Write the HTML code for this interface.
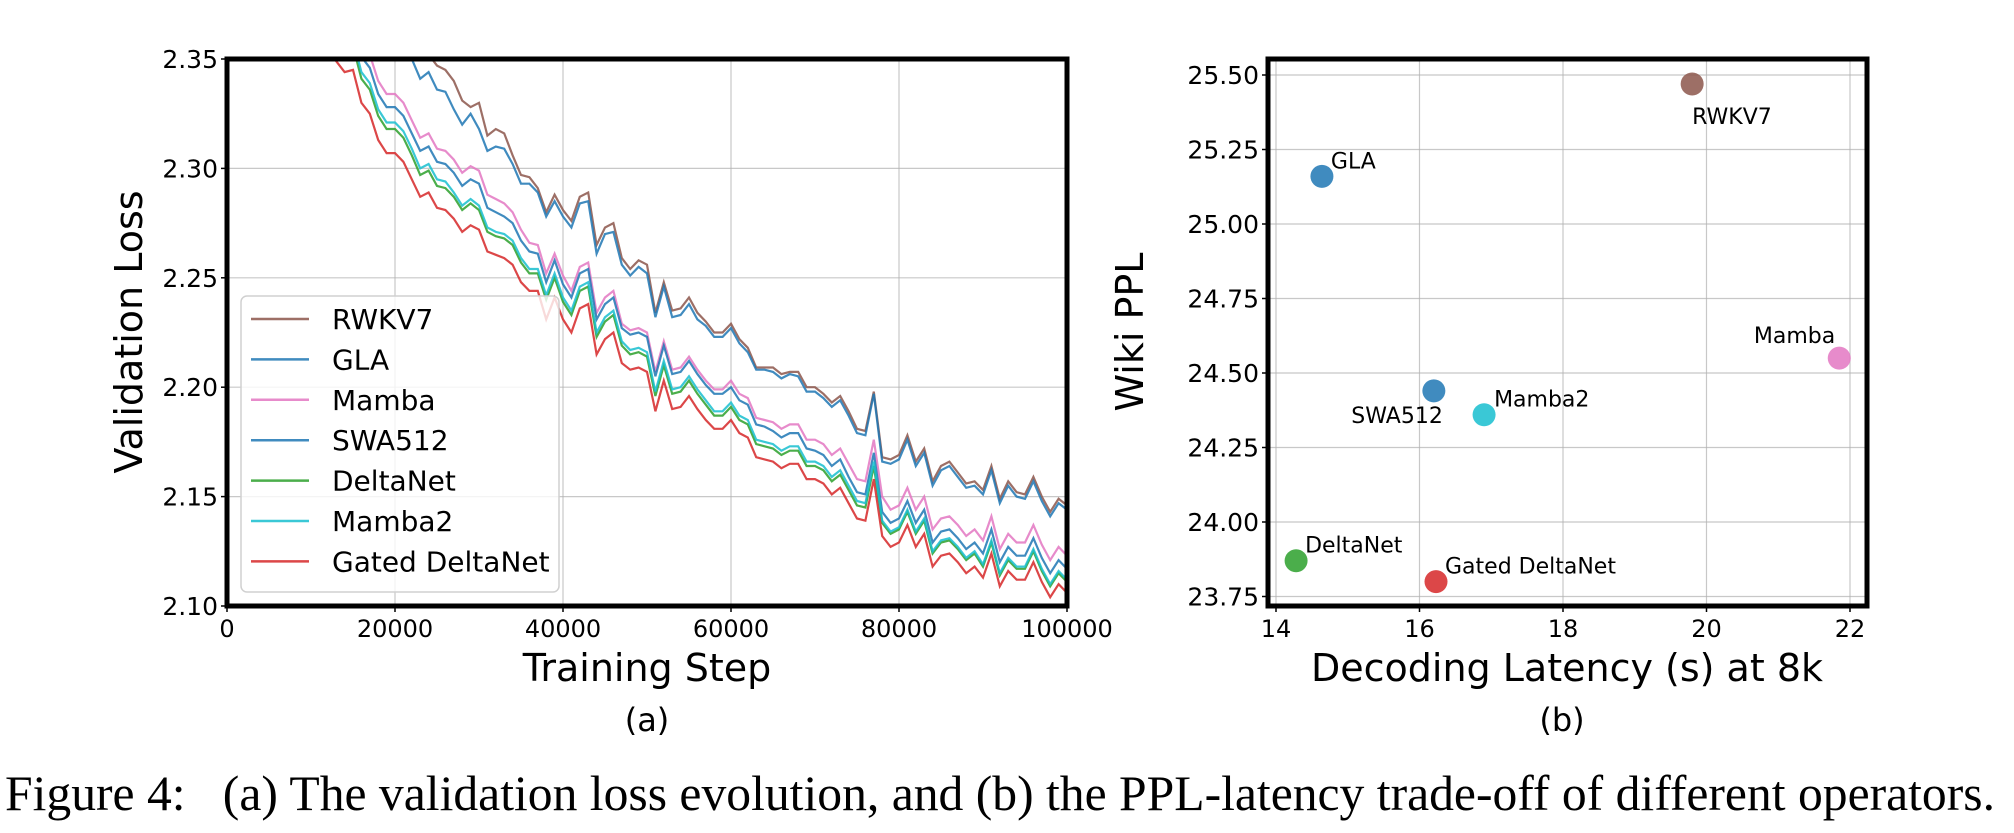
<!DOCTYPE html>
<html><head><meta charset="utf-8"><style>
html,body{margin:0;padding:0;background:#fff;}
svg{display:block;font-family:"DejaVu Sans","Liberation Sans",sans-serif;}
</style></head><body>
<svg id="fig" width="2014" height="833" viewBox="0 0 2014 833" xmlns="http://www.w3.org/2000/svg">
<g id="left"></g>
<g id="right"></g>
<text x="5" y="810" font-family="'Liberation Serif',serif" font-size="50" textLength="1990" lengthAdjust="spacingAndGlyphs">Figure 4:&#160;&#160;&#160;(a) The validation loss evolution, and (b) the PPL-latency trade-off of different operators.</text>
</svg>
<script>
const NS='http://www.w3.org/2000/svg';
// ---------- Chart (a) data ----------
const stepStart=12000, stepInc=1000;
const seriesNames=['RWKV7','GLA','Mamba','SWA512','DeltaNet','Mamba2','Gated DeltaNet'];
const seriesColors=['#8c564b','#1f77b4','#e377c2','#1f77b4','#2ca02c','#17becf','#d62728'];
const rwkv7=[2.40,2.395,2.39,2.385,2.38,2.375,2.37,2.366,2.362,2.358,2.355,2.352,2.352,2.347,2.345,2.340,2.331,2.328,2.330,2.315,2.318,2.316,2.306,2.297,2.296,2.291,2.280,2.288,2.281,2.276,2.287,2.289,2.265,2.273,2.275,2.259,2.254,2.258,2.256,2.234,2.248,2.235,2.236,2.241,2.234,2.230,2.225,2.225,2.229,2.222,2.218,2.209,2.209,2.209,2.206,2.207,2.207,2.200,2.200,2.197,2.193,2.196,2.189,2.181,2.180,2.198,2.168,2.167,2.169,2.178,2.166,2.172,2.157,2.164,2.166,2.161,2.156,2.157,2.153,2.164,2.149,2.157,2.152,2.151,2.159,2.150,2.143,2.149,2.146];
const gla=[2.39,2.385,2.38,2.375,2.37,2.366,2.362,2.358,2.355,2.352,2.35,2.341,2.344,2.336,2.335,2.327,2.320,2.325,2.318,2.308,2.310,2.309,2.302,2.293,2.293,2.289,2.278,2.285,2.278,2.273,2.284,2.285,2.261,2.270,2.271,2.256,2.251,2.255,2.252,2.232,2.246,2.232,2.233,2.238,2.231,2.228,2.223,2.223,2.227,2.220,2.216,2.208,2.208,2.207,2.204,2.206,2.205,2.198,2.198,2.195,2.191,2.194,2.187,2.179,2.178,2.197,2.166,2.165,2.167,2.176,2.164,2.170,2.155,2.162,2.164,2.159,2.154,2.155,2.151,2.162,2.147,2.155,2.150,2.149,2.157,2.148,2.141,2.147,2.144];
const mamba=[2.385,2.376,2.371,2.372,2.357,2.352,2.340,2.334,2.334,2.330,2.322,2.314,2.316,2.309,2.308,2.304,2.298,2.301,2.299,2.288,2.286,2.284,2.280,2.272,2.266,2.265,2.252,2.261,2.251,2.244,2.255,2.257,2.234,2.241,2.244,2.229,2.226,2.227,2.225,2.207,2.221,2.208,2.209,2.214,2.208,2.203,2.199,2.199,2.203,2.197,2.195,2.186,2.185,2.184,2.181,2.183,2.183,2.176,2.176,2.174,2.169,2.172,2.165,2.158,2.157,2.176,2.150,2.144,2.146,2.154,2.144,2.150,2.135,2.140,2.141,2.137,2.132,2.135,2.130,2.141,2.126,2.133,2.129,2.129,2.137,2.128,2.121,2.127,2.123];
const swa512=[2.379,2.370,2.365,2.366,2.351,2.346,2.334,2.328,2.328,2.324,2.316,2.308,2.310,2.303,2.302,2.298,2.292,2.295,2.293,2.282,2.280,2.278,2.275,2.267,2.262,2.261,2.248,2.258,2.247,2.241,2.252,2.254,2.231,2.238,2.241,2.227,2.224,2.225,2.223,2.205,2.219,2.206,2.207,2.212,2.206,2.201,2.197,2.197,2.200,2.194,2.192,2.183,2.182,2.180,2.177,2.179,2.179,2.172,2.171,2.169,2.164,2.167,2.159,2.152,2.151,2.170,2.143,2.138,2.140,2.148,2.138,2.144,2.129,2.134,2.135,2.131,2.126,2.129,2.124,2.135,2.120,2.127,2.123,2.123,2.131,2.122,2.115,2.121,2.117];
const deltanet=[2.37,2.36,2.355,2.356,2.341,2.336,2.324,2.318,2.318,2.314,2.306,2.297,2.299,2.292,2.291,2.287,2.281,2.284,2.281,2.271,2.269,2.268,2.265,2.257,2.252,2.252,2.240,2.250,2.239,2.233,2.244,2.246,2.223,2.230,2.233,2.219,2.215,2.216,2.214,2.196,2.210,2.197,2.198,2.203,2.197,2.192,2.187,2.187,2.191,2.185,2.183,2.174,2.173,2.172,2.169,2.171,2.171,2.164,2.164,2.162,2.157,2.160,2.153,2.146,2.145,2.164,2.138,2.133,2.135,2.143,2.133,2.139,2.124,2.129,2.130,2.126,2.121,2.124,2.118,2.129,2.114,2.121,2.117,2.117,2.125,2.116,2.109,2.115,2.111];
const mamba2=[2.373,2.363,2.358,2.359,2.344,2.339,2.327,2.321,2.321,2.317,2.309,2.300,2.302,2.295,2.294,2.289,2.283,2.286,2.283,2.273,2.271,2.270,2.267,2.259,2.254,2.254,2.242,2.252,2.241,2.235,2.246,2.248,2.225,2.232,2.235,2.221,2.217,2.218,2.216,2.198,2.212,2.199,2.200,2.205,2.199,2.194,2.189,2.189,2.193,2.187,2.185,2.176,2.175,2.174,2.171,2.173,2.173,2.166,2.166,2.164,2.159,2.162,2.155,2.148,2.147,2.166,2.139,2.134,2.136,2.144,2.134,2.140,2.125,2.130,2.131,2.127,2.122,2.125,2.119,2.130,2.115,2.122,2.118,2.118,2.126,2.117,2.110,2.116,2.112];
const gatedDeltanet=[2.358,2.349,2.344,2.345,2.330,2.325,2.313,2.307,2.307,2.303,2.295,2.287,2.289,2.282,2.281,2.277,2.271,2.274,2.272,2.262,2.2605,2.259,2.256,2.248,2.244,2.244,2.231,2.241,2.231,2.225,2.236,2.238,2.215,2.222,2.225,2.211,2.208,2.209,2.207,2.189,2.203,2.190,2.191,2.196,2.190,2.185,2.181,2.181,2.185,2.179,2.177,2.168,2.167,2.166,2.163,2.165,2.165,2.158,2.158,2.156,2.151,2.154,2.147,2.140,2.139,2.158,2.132,2.127,2.129,2.137,2.127,2.133,2.118,2.123,2.124,2.120,2.115,2.118,2.113,2.124,2.109,2.116,2.112,2.112,2.120,2.111,2.104,2.110,2.106];
const xTicksA=[0,20000,40000,60000,80000,100000];
const yTicksA=[2.10,2.15,2.20,2.25,2.30,2.35];
// ---------- Chart (b) data ----------
const ptNames=['RWKV7','GLA','Mamba','SWA512','Mamba2','DeltaNet','Gated DeltaNet'];
const ptLatency=[19.8,14.64,21.85,16.2,16.9,14.28,16.23];
const ptPPL=[25.47,25.16,24.55,24.44,24.36,23.87,23.80];
const ptColors=['#8c564b','#1f77b4','#e377c2','#1f77b4','#17becf','#2ca02c','#d62728'];
const xTicksB=[14,16,18,20,22];
const yTicksB=[23.75,24.00,24.25,24.50,24.75,25.00,25.25,25.50];

function el(tag,attrs,parent){const e=document.createElementNS(NS,tag);for(const k in attrs)e.setAttribute(k,attrs[k]);parent.appendChild(e);return e;}

// ===== Chart (a) =====
const L=document.getElementById('left');
const aL=227,aR=1067,aT=59,aB=606;
const xA=s=>aL+(s-0)/100000*(aR-aL);
const yA=v=>aB-(v-2.10)/0.25*(aB-aT);
const defs=el('defs',{},L);
const cp=el('clipPath',{id:'clipA'},defs);
el('rect',{x:aL,y:aT,width:aR-aL,height:aB-aT},cp);
xTicksA.forEach(t=>{
  const g=el('line',{x1:xA(t),x2:xA(t),y1:aT,y2:aB,stroke:'#b0b0b0','stroke-width':1.2,'stroke-opacity':0.7},L);
  
  
  el('line',{x1:xA(t),x2:xA(t),y1:aB,y2:aB+6,stroke:'#000','stroke-width':1.5},L);
  const tx=el('text',{x:xA(t),y:637,'font-size':24,'text-anchor':'middle'},L);
  tx.textContent=String(t);
  
  
});
yTicksA.forEach(t=>{
  const g=el('line',{x1:aL,x2:aR,y1:yA(t),y2:yA(t),stroke:'#b0b0b0','stroke-width':1.2,'stroke-opacity':0.7},L);
  
  
  el('line',{x1:aL-6,x2:aL,y1:yA(t),y2:yA(t),stroke:'#000','stroke-width':1.5},L);
  const tx=el('text',{x:aL-9,y:yA(t)+9,'font-size':25,'text-anchor':'end'},L);
  tx.textContent=t.toFixed(2);
  
  
});
const allSeries=[rwkv7,gla,mamba,swa512,deltanet,mamba2,gatedDeltanet];
const seriesKeys=['rwkv7','gla','mamba','swa512','deltanet','mamba2','gated-deltanet'];
const lineG=el('g',{'clip-path':'url(#clipA)'},L);
allSeries.forEach((arr,i)=>{
  const pts=arr.map((v,j)=>xA(stepStart+j*stepInc).toFixed(1)+','+yA(v).toFixed(1)).join(' ');
  const p=el('polyline',{points:pts,fill:'none',stroke:seriesColors[i],'stroke-width':2.2,'stroke-opacity':0.85,'stroke-linejoin':'miter'},lineG);
  
  
});
// legend
const lg=el('g',{},L);


el('rect',{x:241,y:296,width:318,height:296,rx:6,fill:'#fff','fill-opacity':0.8,stroke:'#d0d0d0','stroke-width':1.5},lg);
seriesNames.forEach((n,i)=>{
  const cy=319+i*40.4;
  const ln=el('line',{x1:251,x2:309,y1:cy,y2:cy,stroke:seriesColors[i],'stroke-width':2.5,'stroke-opacity':0.85},lg);
  
  
  const tx=el('text',{x:332,y:cy+10,'font-size':28},lg);
  tx.textContent=n;
  
  
});
el('rect',{x:aL,y:aT,width:aR-aL,height:aB-aT,fill:'none',stroke:'#000','stroke-width':5},L);
const xtA=el('text',{x:647,y:681,'font-size':38,'text-anchor':'middle'},L);
xtA.textContent='Training Step';


const ytA=el('text',{x:0,y:0,'font-size':38,'text-anchor':'middle',transform:'translate(142,332) rotate(-90)'},L);
ytA.textContent='Validation Loss';


const capA=el('text',{x:647,y:731,'font-size':32,'text-anchor':'middle'},L);
capA.textContent='(a)';



// ===== Chart (b) =====
const R=document.getElementById('right');
const bL=1268,bR=1867,bT=59,bB=606;
const xB=v=>1276+(v-14)/2*143.5;
const yB=v=>75+(25.50-v)/0.25*74.5;
xTicksB.forEach(t=>{
  const g=el('line',{x1:xB(t),x2:xB(t),y1:bT,y2:bB,stroke:'#b0b0b0','stroke-width':1.2,'stroke-opacity':0.7},R);
  
  
  el('line',{x1:xB(t),x2:xB(t),y1:bB,y2:bB+6,stroke:'#000','stroke-width':1.5},R);
  const tx=el('text',{x:xB(t),y:637,'font-size':24,'text-anchor':'middle'},R);
  tx.textContent=String(t);
  
  
});
yTicksB.forEach(t=>{
  const g=el('line',{x1:bL,x2:bR,y1:yB(t),y2:yB(t),stroke:'#b0b0b0','stroke-width':1.2,'stroke-opacity':0.7},R);
  
  
  el('line',{x1:bL-6,x2:bL,y1:yB(t),y2:yB(t),stroke:'#000','stroke-width':1.5},R);
  const tx=el('text',{x:bL-9,y:yB(t)+9,'font-size':25,'text-anchor':'end'},R);
  tx.textContent=t.toFixed(2);
  
  
});
const lblOff=[[0,40,'start'],[9,-8,'start'],[-4,-15,'end'],[9,32,'end'],[10,-8,'start'],[9,-8,'start'],[9,-8,'start']];
ptNames.forEach((n,i)=>{
  const cx=xB(ptLatency[i]),cy=yB(ptPPL[i]);
  const c=el('circle',{cx:cx,cy:cy,r:11.5,fill:ptColors[i],'fill-opacity':0.85},R);
  
  
  const tx=el('text',{x:cx+lblOff[i][0],y:cy+lblOff[i][1],'font-size':22,'text-anchor':lblOff[i][2]},R);
  tx.textContent=n;
  
  
});
el('rect',{x:bL,y:bT,width:bR-bL,height:bB-bT,fill:'none',stroke:'#000','stroke-width':5},R);
const xtB=el('text',{x:1567,y:681,'font-size':38,'text-anchor':'middle'},R);
xtB.textContent='Decoding Latency (s) at 8k';


const ytB=el('text',{x:0,y:0,'font-size':38,'text-anchor':'middle',transform:'translate(1143,332) rotate(-90)'},R);
ytB.textContent='Wiki PPL';


const capB=el('text',{x:1562,y:731,'font-size':32,'text-anchor':'middle'},R);
capB.textContent='(b)';


</script>
</body></html>
